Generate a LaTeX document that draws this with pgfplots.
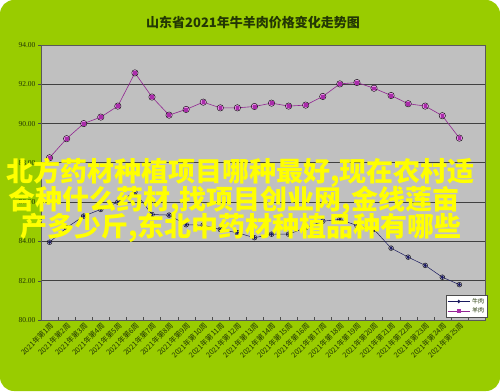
\documentclass[border=0pt]{standalone}
\usepackage{fontspec}
\setmainfont{Liberation Serif}
\newfontfamily\cjk{Noto Sans CJK SC}
\usepackage{pgfplots}
\pgfplotsset{compat=1.18}
\definecolor{bggreen}{RGB}{153,204,0}
\definecolor{plotgray}{RGB}{192,192,192}
\definecolor{txt}{RGB}{35,55,5}
\definecolor{beef}{RGB}{25,25,95}
\definecolor{mutton}{RGB}{170,45,170}
\definecolor{halo}{RGB}{255,120,255}
\definecolor{bhalo}{RGB}{170,160,230}
\definecolor{wm}{RGB}{255,255,0}
\begin{document}
\begin{tikzpicture}
\useasboundingbox (0pt,0pt) rectangle (500pt,391pt);
\fill[white] (0pt,0pt) rectangle (500pt,391pt);
\fill[bggreen, rounded corners=14pt] (0pt,0pt) rectangle (500pt,391pt);
\node[font=\cjk\bfseries\fontsize{13}{13}\selectfont, text=txt] at (253pt,368pt) {山东省2021年牛羊肉价格变化走势图};
\begin{axis}[
  at={(41pt,71pt)}, anchor=south west,
  scale only axis, width=444pt, height=275pt,
  xmin=0.5, xmax=26.5, ymin=80, ymax=94,
  axis background/.style={fill=plotgray},
  axis line style={draw=black!65, line width=0.8pt},
  ytick={80,82,...,94},
  ytick pos=left, xtick pos=bottom,
  tick align=inside,
  ytick style={xshift=-3pt, draw=black!70},
  major tick length=3pt, minor tick length=3pt,
  y tick label style={font=\fontsize{7.5}{7.5}\selectfont, text=txt, xshift=-2pt},
  yticklabel={\pgfmathprintnumber[fixed,fixed zerofill,precision=2]{\tick}},
  /pgf/number format/assume math mode=true,
  ymajorgrids, grid style={draw=black!75, line width=0.8pt},
  xtick={1,...,25},
  major x tick style={draw=none},
  minor xtick={1.5,2.5,...,25.5},
  minor x tick style={draw=black!70},
  xticklabels={2021年第1周,2021年第2周,2021年第3周,2021年第4周,2021年第5周,2021年第6周,2021年第7周,2021年第8周,2021年第9周,2021年第10周,2021年第11周,2021年第12周,2021年第13周,2021年第14周,2021年第15周,2021年第16周,2021年第17周,2021年第18周,2021年第19周,2021年第20周,2021年第21周,2021年第22周,2021年第23周,2021年第24周,2021年第25周},
  x tick label style={rotate=45, anchor=north east, font=\cjk\fontsize{7.3}{7.3}\selectfont, text=txt, inner sep=1pt},
  legend style={at={(1.005,0.091)}, anchor=north east, draw=black!70, fill=white, font=\cjk\fontsize{6}{6}\selectfont, inner sep=1pt, row sep=-1pt, text=txt},
  legend cell align=left,
  legend image code/.code={\draw[#1] (0pt,0pt) -- (22pt,0pt); \draw[#1, only marks] plot coordinates {(11pt,0pt)};},
]
\addplot[only marks, mark=*, mark size=2.4pt, draw=none, fill=bhalo, fill opacity=0.45, forget plot] coordinates {
(1,83.96)(2,84.70)(3,85.29)(4,85.63)(5,86.00)(6,86.51)(7,85.37)(8,85.34)(9,84.85)(10,84.83)(11,84.61)(12,84.44)(13,84.19)(14,84.37)(15,84.37)(16,84.70)(17,85.03)(18,85.12)(19,84.81)(20,84.61)(21,83.66)(22,83.20)(23,82.78)(24,82.18)(25,81.80)};
\addplot[only marks, mark=*, mark size=3.2pt, draw=none, fill=halo, fill opacity=0.6, forget plot] coordinates {
(1,88.26)(2,89.23)(3,90.00)(4,90.33)(5,90.89)(6,92.58)(7,91.35)(8,90.43)(9,90.72)(10,91.09)(11,90.80)(12,90.80)(13,90.87)(14,91.04)(15,90.89)(16,90.94)(17,91.38)(18,92.02)(19,92.09)(20,91.80)(21,91.43)(22,91.01)(23,90.89)(24,90.40)(25,89.26)};
\addplot[beef, line width=0.5pt, mark=diamond*, mark size=1.5pt, mark options={fill=beef, draw=beef}] coordinates {
(1,83.96)(2,84.70)(3,85.29)(4,85.63)(5,86.00)(6,86.51)(7,85.37)(8,85.34)(9,84.85)(10,84.83)(11,84.61)(12,84.44)(13,84.19)(14,84.37)(15,84.37)(16,84.70)(17,85.03)(18,85.12)(19,84.81)(20,84.61)(21,83.66)(22,83.20)(23,82.78)(24,82.18)(25,81.80)};
\addlegendentry{牛肉}
\addplot[mutton!85!black, line width=0.6pt, mark=square*, mark size=1.4pt, mark options={fill=mutton, draw=mutton}] coordinates {
(1,88.26)(2,89.23)(3,90.00)(4,90.33)(5,90.89)(6,92.58)(7,91.35)(8,90.43)(9,90.72)(10,91.09)(11,90.80)(12,90.80)(13,90.87)(14,91.04)(15,90.89)(16,90.94)(17,91.38)(18,92.02)(19,92.09)(20,91.80)(21,91.43)(22,91.01)(23,90.89)(24,90.40)(25,89.26)};
\addlegendentry{羊肉}
\end{axis}
\begin{scope}[every node/.style={font=\cjk\bfseries\fontsize{27}{27}\selectfont, text=wm, inner sep=0pt, anchor=base west}]
\node at (6pt,209pt) {北方药材种植项目哪种最好,现在农村适};
\node at (8pt,181pt) {合种什么药材,找项目创业网,金线莲亩};
\node at (20pt,154pt) {产多少斤,东北中药材种植品种有哪些};
\end{scope}
\end{tikzpicture}
\end{document}
